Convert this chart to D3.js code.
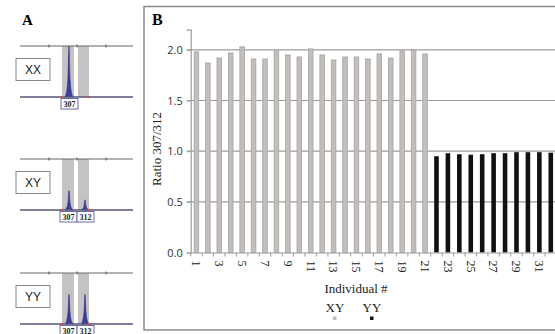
<!DOCTYPE html>
<html>
<head>
<meta charset="utf-8">
<script src="https://cdn.jsdelivr.net/npm/d3@7"></script>
<style>
  body { margin: 0; background: #fff; }
  svg { display: block; }
</style>
</head>
<body>
<svg id="chart" width="555" height="334"></svg>
<script>
// ratio 307/312 per individual
const individuals = d3.range(1, 33);
const ratioXY = [1.98, 1.87, 1.92, 1.97, 2.03, 1.91, 1.91, 1.99, 1.95, 1.93,
                 2.01, 1.95, 1.90, 1.93, 1.93, 1.91, 1.96, 1.92, 1.99, 2.00, 1.96];
const ratioYY = [0.95, 0.98, 0.97, 0.965, 0.97, 0.98, 0.98, 0.99, 0.99, 0.99, 0.985];
const yTicks = [0, 0.5, 1.0, 1.5, 2.0];
const xLabels = individuals.filter(d => d % 2 === 1);

// panel A: relative peak heights at 307 and 312
const genotypes = ["XX", "XY", "YY"];
const peak307 = [1.0, 0.38, 0.58];
const peak312 = [0, 0.2, 0.58];
const panelTops = [46, 159, 273];

const svg = d3.select("#chart");

// ---------- panel A ----------
svg.append("text").attr("x", 22).attr("y", 25)
  .attr("font-family", "Liberation Serif").attr("font-weight", "bold")
  .attr("font-size", 15).text("A");

const peakShape = [0, 0.05, 0.15, 0.4, 1, 0.4, 0.15, 0.05, 0];
const peakX = d3.scaleLinear().domain([0, peakShape.length - 1]).range([-4, 4]);

genotypes.forEach((g, i) => {
  const top = panelTops[i], base = top + 51;
  const ph = d3.scaleLinear().domain([0, 1]).range([base, top]);
  const gA = svg.append("g");

  // shaded bins
  [[62, 74], [78, 89]].forEach(b => {
    gA.append("rect").attr("x", b[0]).attr("y", top)
      .attr("width", b[1] - b[0]).attr("height", base - top)
      .attr("fill", "#c4c2c2");
  });
  gA.append("line").attr("x1", 20).attr("x2", 133).attr("y1", top).attr("y2", top)
    .attr("stroke", "#666").attr("stroke-width", 1);
  [49, 77, 106].forEach(t => {
    gA.append("line").attr("x1", t).attr("x2", t).attr("y1", top - 1.5).attr("y2", top + 1.5)
      .attr("stroke", "#555");
  });

  // peaks
  [[69, peak307[i]], [85, peak312[i]]].forEach(p => {
    if (p[1] <= 0) return;
    const area = d3.area()
      .x((d, k) => p[0] + peakX(k))
      .y0(base)
      .y1(d => ph(d * p[1]))
      .curve(d3.curveMonotoneX);
    gA.append("path").datum(peakShape).attr("d", area)
      .attr("fill", "#3a3f9a").attr("stroke", "#2a2f88").attr("stroke-width", 0.6);
  });

  gA.append("line").attr("x1", 20).attr("x2", 133).attr("y1", base).attr("y2", base)
    .attr("stroke", "#55557a").attr("stroke-width", 1.3);
  [62, 89].forEach(t => {
    gA.append("circle").attr("cx", t).attr("cy", base).attr("r", 1.3).attr("fill", "#e05040");
  });

  // genotype box
  gA.append("rect").attr("x", 16).attr("y", top + 12.5).attr("width", 34).attr("height", 22)
    .attr("fill", "#fff").attr("stroke", "#888");
  gA.append("text").attr("x", 33).attr("y", top + 28).attr("text-anchor", "middle")
    .attr("font-family", "Liberation Sans").attr("font-size", 12).attr("fill", "#222").text(g);

  // size labels
  const labs = peak312[i] > 0 ? [["307", 60], ["312", 77]] : [["307", 61]];
  labs.forEach(l => {
    gA.append("rect").attr("x", l[1]).attr("y", base + 1.5).attr("width", 17).attr("height", 10.5)
      .attr("fill", "#fff").attr("stroke", "#6b6ba8").attr("stroke-width", 1);
    gA.append("text").attr("x", l[1] + 8.5).attr("y", base + 9.8).attr("text-anchor", "middle")
      .attr("font-family", "Liberation Serif").attr("font-weight", "bold")
      .attr("font-size", 8).attr("fill", "#222").text(l[0]);
  });
});

// ---------- panel B ----------
svg.append("rect").attr("x", 144).attr("y", 6.5).attr("width", 420).attr("height", 323.5)
  .attr("fill", "none").attr("stroke", "#8a8a8a").attr("stroke-width", 1.5);
svg.append("text").attr("x", 152).attr("y", 25)
  .attr("font-family", "Liberation Serif").attr("font-weight", "bold")
  .attr("font-size", 16).text("B");

const y = d3.scaleLinear().domain([0, 2.2]).range([252.5, 29.6]);
const x = d3.scaleBand().domain(individuals).range([190.7, 556.5])
  .paddingInner(0.6).paddingOuter(0.3);

// gridlines
svg.append("g").selectAll("line").data(yTicks.filter(d => d > 0)).join("line")
  .attr("x1", 187).attr("x2", 555)
  .attr("y1", d => y(d)).attr("y2", d => y(d))
  .attr("stroke", "#9c9c9c").attr("stroke-width", 1.2);

// y axis
const yAxis = svg.append("g").attr("transform", "translate(190.7,0)")
  .call(d3.axisLeft(y).tickValues(yTicks).tickFormat(d3.format(".1f")).tickSize(4).tickPadding(4));
yAxis.select(".domain").attr("stroke", "#9c9c9c").attr("stroke-width", 1.2);
yAxis.selectAll(".tick line").attr("stroke", "#9c9c9c");
yAxis.selectAll("text").attr("font-family", "Open Sans").attr("font-size", 11).attr("fill", "#333");

svg.append("text")
  .attr("transform", "translate(161,149) rotate(-90)")
  .attr("text-anchor", "middle")
  .attr("font-family", "Liberation Serif").attr("font-size", 13).attr("fill", "#222")
  .text("Ratio 307/312");

// bars
const barData = individuals.map((d, i) => ({
  id: d,
  value: i < ratioXY.length ? ratioXY[i] : ratioYY[i - ratioXY.length],
  type: i < ratioXY.length ? "XY" : "YY"
}));
svg.append("g").selectAll("rect").data(barData).join("rect")
  .attr("x", d => x(d.id))
  .attr("y", d => y(d.value))
  .attr("width", x.bandwidth())
  .attr("height", d => y(0) - y(d.value))
  .attr("fill", d => d.type === "XY" ? "#c2bebb" : "#111")
  .attr("stroke", d => d.type === "XY" ? "#a7a29f" : "none")
  .attr("stroke-width", 0.8);

// x axis
const xAxis = svg.append("g").attr("transform", `translate(0,${y(0)})`)
  .call(d3.axisBottom(x).tickValues(xLabels).tickSize(0).tickPadding(0));
xAxis.select(".domain").attr("stroke", "#9c9c9c").attr("stroke-width", 1.2);
xAxis.selectAll("text")
  .attr("transform", "rotate(90)")
  .attr("x", 8).attr("y", 0).attr("dy", "0.35em")
  .attr("text-anchor", "start")
  .attr("font-family", "Liberation Serif").attr("font-size", 12).attr("fill", "#222");
xAxis.append("g").selectAll("line").data(individuals).join("line")
  .attr("x1", d => x(d) - x.step() * 0.3).attr("x2", d => x(d) - x.step() * 0.3)
  .attr("y1", 0).attr("y2", 4).attr("stroke", "#9c9c9c");

svg.append("text").attr("x", 356).attr("y", 293).attr("text-anchor", "middle")
  .attr("font-family", "Liberation Serif").attr("font-size", 13).attr("fill", "#222")
  .text("Individual #");

// legend
const legend = [["XY", 335, "#c2bebb"], ["YY", 372, "#111"]];
legend.forEach(l => {
  svg.append("text").attr("x", l[1]).attr("y", 312).attr("text-anchor", "middle")
    .attr("font-family", "Liberation Serif").attr("font-size", 13).attr("fill", "#222").text(l[0]);
  svg.append("rect").attr("x", l[1] - 2).attr("y", 316.5).attr("width", 3.5).attr("height", 3.5)
    .attr("fill", l[2]);
});
</script>
</body>
</html>
